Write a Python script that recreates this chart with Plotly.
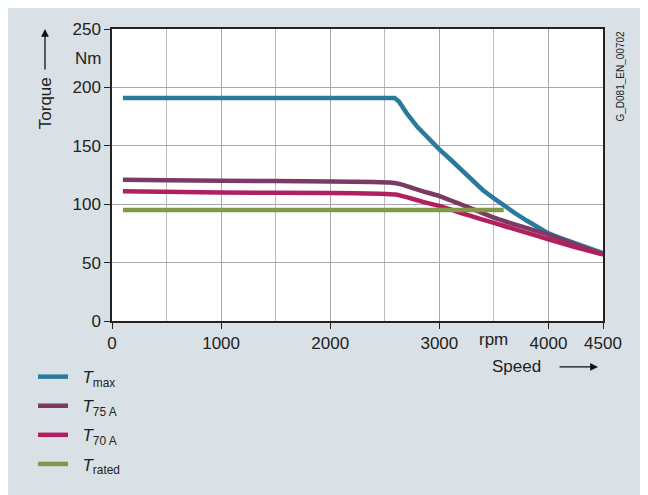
import plotly.graph_objects as go

# ---- data ----
speed_max = [100, 2590, 2630, 2700, 2800, 2900, 3000, 3100, 3200, 3300, 3400, 3500, 3600,
             3700, 3800, 3900, 4000, 4100, 4200, 4300, 4400, 4500]
t_max     = [191, 191, 188, 178, 166, 156, 147, 138.5, 130, 121, 112, 105, 98,
             92, 86, 80.5, 75, 71.5, 68, 64.5, 61.5, 58]

speed_75 = [100, 500, 1000, 2000, 2400, 2550, 2650, 2750, 2850, 3000, 3250, 3500, 3750, 4000, 4250, 4500]
t_75     = [121, 120.5, 120, 119.5, 119, 118.5, 117, 114, 111, 107, 98, 88.5, 81, 74, 65.5, 57]

speed_70 = [100, 1000, 2000, 2450, 2600, 2700, 2850, 3000, 3250, 3500, 3750, 4000, 4250, 4500]
t_70     = [111, 110, 109.5, 109, 108.3, 106, 102, 98.5, 91, 84, 77, 70, 63, 57]

speed_rated = [100, 3590]
t_rated     = [95, 95]

names  = ["\u00a0\u00a0<i>T</i><sub>max</sub>", "\u00a0\u00a0<i>T</i><sub>75 A</sub>",
          "\u00a0\u00a0<i>T</i><sub>70 A</sub>", "\u00a0\u00a0<i>T</i><sub>rated</sub>"]
colors = ["#2a7b9b", "#7b3a63", "#b21f5f", "#82994c"]
shapes_ = ["linear", "spline", "spline", "linear"]

x_ticks = [0, 1000, 2000, 3000, 4000, 4500]
y_ticks = [0, 50, 100, 150, 200, 250]

FONT = "Liberation Sans, Arial, sans-serif"
PANEL = "#d9e1e6"

fig = go.Figure()
series = [(speed_max, t_max), (speed_75, t_75), (speed_70, t_70), (speed_rated, t_rated)]
for i, ((xs, ys), nm, c, sh) in enumerate(zip(series, names, colors, shapes_)):
    fig.add_trace(go.Scatter(x=xs, y=ys, mode="lines", name=nm, legendgroup=f"g{i}",
                             line=dict(color=c, width=4.5, shape=sh, smoothing=0.4)))

fig.update_xaxes(range=[0, 4500], tickvals=x_ticks, ticktext=[str(v) for v in x_ticks],
                 showgrid=True, gridcolor="#a9a9a9", gridwidth=1,
                 minor=dict(dtick=500, showgrid=True, gridcolor="#b8bcbf", gridwidth=1, ticks=""),
                 showline=True, linecolor="#222", linewidth=1.5, mirror=True,
                 ticks="outside", ticklen=6, tickcolor="#222",
                 tickfont=dict(size=17, color="#222", family=FONT), zeroline=False)
fig.update_yaxes(range=[0, 250], tickvals=y_ticks,
                 showgrid=True, gridcolor="#a9a9a9", gridwidth=1,
                 showline=True, linecolor="#222", linewidth=1.5, mirror=True,
                 ticks="outside", ticklen=6, tickcolor="#222",
                 tickfont=dict(size=17, color="#222", family=FONT), zeroline=False)

# page has an 8px body margin; figure is 640x487 placed at (8,8)
OFF = 8
FW, FH = 640, 487
# plot area in page px: x 112..603, y 22..321
L, R, T, B = 112 - OFF, FW - (603 - OFF), 22 - OFF, FH - (321 - OFF)
W, H = FW - L - R, FH - T - B
def px(x): return (x - OFF - L) / W
def py(y): return (H + T - (y - OFF)) / H

annotations = [
    dict(text="Nm", xref="paper", yref="y", x=px(103), y=225, xanchor="right", yanchor="middle",
         showarrow=False, font=dict(size=17, color="#222", family=FONT)),
    dict(text="rpm", xref="x", yref="paper", x=3500, y=py(340), xanchor="center", yanchor="middle",
         showarrow=False, font=dict(size=17, color="#222", family=FONT)),
    dict(text="Torque", xref="paper", yref="paper", x=px(45), y=py(98), textangle=-90,
         xanchor="center", yanchor="middle", showarrow=False,
         font=dict(size=17, color="#222", family=FONT)),
    dict(text="", xref="paper", yref="paper", x=px(45), y=py(22), ax=0, ay=42,
         axref="pixel", ayref="pixel", showarrow=True, arrowhead=2, arrowsize=1.2, arrowwidth=1.3,
         arrowcolor="#111"),
    dict(text="Speed", xref="paper", yref="paper", x=px(516), y=py(368),
         xanchor="center", yanchor="middle", showarrow=False,
         font=dict(size=17, color="#222", family=FONT)),
    dict(text="", xref="paper", yref="paper", x=px(598), y=py(368), ax=-40, ay=0,
         axref="pixel", ayref="pixel", showarrow=True, arrowhead=2, arrowsize=1.2, arrowwidth=1.3,
         arrowcolor="#111"),
    dict(text="G_D081_EN_00702", xref="paper", yref="paper", x=px(620), y=py(22), textangle=-90,
         xanchor="center", yanchor="top", showarrow=False,
         font=dict(size=10, color="#222", family=FONT)),
]

fig.update_layout(
    width=FW, height=FH, autosize=False,
    margin=dict(l=L, r=R, t=T, b=B),
    paper_bgcolor=PANEL, plot_bgcolor="white",
    font=dict(family=FONT, color="#222"),
    annotations=annotations,
    showlegend=True,
    legend=dict(x=px(33), y=py(360), xanchor="left", yanchor="top",
                bgcolor="rgba(0,0,0,0)", font=dict(size=17, color="#222", family=FONT),
                tracegroupgap=4, traceorder="grouped"),
)

fig.write_html("out.html")
